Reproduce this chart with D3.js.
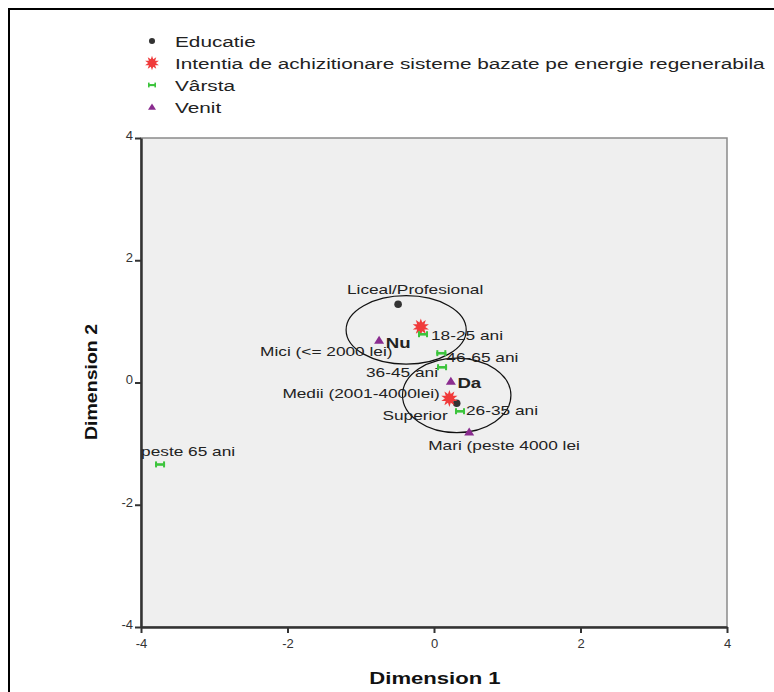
<!DOCTYPE html>
<html>
<head>
<meta charset="utf-8">
<script src="https://cdn.jsdelivr.net/npm/d3@7"></script>
<style>
  body { margin: 0; background: #fff; }
  svg { font-family: "Liberation Sans", Arial, sans-serif; }
</style>
</head>
<body>
<div id="chart"></div>
<script>
// categories per variable, with their coordinates (Dimension 1, Dimension 2)
var educatie = [
  { name: "Liceal/Profesional", x: -0.49, y: 1.28 },
  { name: "Superior", x: 0.31, y: -0.34 }
];
var intentia = [
  { name: "Nu", x: -0.18, y: 0.91 },
  { name: "Da", x: 0.21, y: -0.26 }
];
var varsta = [
  { name: "18-25 ani", x: -0.15, y: 0.79 },
  { name: "46-65 ani", x: 0.10, y: 0.48 },
  { name: "36-45 ani", x: 0.11, y: 0.25 },
  { name: "26-35 ani", x: 0.355, y: -0.47 },
  { name: "peste 65 ani", x: -3.74, y: -1.34 }
];
var venit = [
  { name: "Mici (<= 2000 lei)", x: -0.75, y: 0.69 },
  { name: "Medii (2001-4000lei)", x: 0.23, y: 0.02 },
  { name: "Mari (peste 4000 lei", x: 0.48, y: -0.81 }
];
// grouping ellipses (centre and radii in data units)
var ellipses = [
  { cx: -0.38, cy: 0.86, rx: 0.82, ry: 0.56 },
  { cx: 0.31, cy: -0.21, rx: 0.74, ry: 0.61 }
];
var legendNames = ["Educatie", "Intentia de achizitionare sisteme bazate pe energie regenerabila", "Vârsta", "Venit"];
var tickValues = [-4, -2, 0, 2, 4];

// label offsets (px) relative to marker, picked to match the original layout
var labelPos = {
  "Liceal/Profesional": [17, -10, "middle"],
  "Superior": [-9, 17, "end"],
  "Nu": [-35, 21, "start"],
  "Da": [8, -10, "start"],
  "18-25 ani": [8, 6, "start"],
  "46-65 ani": [5, 9, "start"],
  "36-45 ani": [-4, 10, "end"],
  "26-35 ani": [6, 4, "start"],
  "peste 65 ani": [-19, -8, "start"],
  "Mici (<= 2000 lei)": [-119, 16, "start"],
  "Medii (2001-4000lei)": [-11, 17, "end"],
  "Mari (peste 4000 lei": [-41, 18, "start"]
};

var W = 774, H = 692;
var SX = 1.33; // the original text is horizontally stretched
var svg = d3.select("#chart").append("svg").attr("width", W).attr("height", H);

// outer frame
svg.append("rect").attr("x", 9).attr("y", 9).attr("width", 800).attr("height", 800)
  .attr("fill", "none").attr("stroke", "#000").attr("stroke-width", 2);

var x = d3.scaleLinear().domain([-4, 4]).range([141, 727]);
var y = d3.scaleLinear().domain([-4, 4]).range([627, 138]);

svg.append("rect").attr("x", 141).attr("y", 138).attr("width", 586).attr("height", 489)
  .attr("fill", "#efefef").attr("stroke", "#8a8a8a").attr("stroke-width", 1.5);

var xAxis = svg.append("g").attr("transform", "translate(0,627)")
  .call(d3.axisBottom(x).tickValues(tickValues).tickSize(6).tickSizeOuter(0).tickFormat(function(d) { return String(d); }));
var yAxis = svg.append("g").attr("transform", "translate(141,0)")
  .call(d3.axisLeft(y).tickValues(tickValues).tickSize(6).tickSizeOuter(0).tickFormat(function(d) { return String(d); }));
[xAxis, yAxis].forEach(function(a) {
  a.select(".domain").attr("stroke", "#333").attr("stroke-width", 2.5);
  a.selectAll(".tick line").attr("stroke", "#333").attr("stroke-width", 2);
  a.selectAll(".tick text").attr("fill", "#333").style("font-size", "13px")
    .style("font-family", "'Liberation Sans', Arial, sans-serif");
});
xAxis.selectAll(".tick text").attr("dy", "0.95em");
yAxis.selectAll(".tick text").attr("x", -8).attr("dy", "0.1em");

svg.append("text").attr("transform", "translate(435,684) scale(1.3,1)").attr("text-anchor", "middle")
  .style("font-size", "17px").style("font-weight", "bold").attr("fill", "#111").text("Dimension 1");
svg.append("text").attr("transform", "translate(97,382) rotate(-90) scale(1.15,1)").attr("text-anchor", "middle")
  .style("font-size", "17px").style("font-weight", "bold").attr("fill", "#111").text("Dimension 2");

// ellipses
svg.selectAll(".ell").data(ellipses).enter().append("ellipse")
  .attr("cx", function(d) { return x(d.cx); })
  .attr("cy", function(d) { return y(d.cy); })
  .attr("rx", function(d) { return x(d.rx) - x(0); })
  .attr("ry", function(d) { return y(0) - y(d.ry); })
  .attr("fill", "none").attr("stroke", "#111").attr("stroke-width", 1.2);

// marker drawers
function starPath(r1, r2, n) {
  var p = [];
  for (var i = 0; i < n * 2; i++) {
    var r = i % 2 ? r2 : r1, a = Math.PI * i / n;
    p.push([r * Math.sin(a), -r * Math.cos(a)]);
  }
  return "M" + p.join("L") + "Z";
}
function drawMarker(g, kind) {
  if (kind === 0) {
    g.append("circle").attr("r", 3.8).attr("fill", "#333");
  } else if (kind === 1) {
    g.append("path").attr("d", starPath(8.5, 4.5, 10)).attr("fill", "#f03a3a");
  } else if (kind === 2) {
    g.append("rect").attr("x", -5).attr("y", -1.2).attr("width", 10).attr("height", 2.6).attr("fill", "#3cc43c");
    g.append("rect").attr("x", -5).attr("y", -3).attr("width", 2).attr("height", 6).attr("fill", "#3cc43c");
    g.append("rect").attr("x", 3).attr("y", -3).attr("width", 2).attr("height", 6).attr("fill", "#3cc43c");
  } else {
    g.append("path").attr("d", "M0,-4.5L5,3.5L-5,3.5Z").attr("fill", "#8a2c8f");
  }
}

var groups = [educatie, intentia, varsta, venit];
groups.forEach(function(data, k) {
  var pts = svg.selectAll(".pt" + k).data(data).enter().append("g")
    .attr("transform", function(d) { return "translate(" + x(d.x) + "," + y(d.y) + ")"; });
  pts.each(function() { drawMarker(d3.select(this), k); });
});
// labels on top
groups.forEach(function(data, k) {
  svg.selectAll(".lb" + k).data(data).enter().append("text")
    .attr("transform", function(d) {
      return "translate(" + (x(d.x) + labelPos[d.name][0]) + "," + (y(d.y) + labelPos[d.name][1]) + ") scale(" + SX + ",1)";
    })
    .attr("text-anchor", function(d) { return labelPos[d.name][2]; })
    .style("font-size", k === 1 ? "14px" : "13px")
    .style("font-weight", k === 1 ? "bold" : "normal")
    .attr("fill", "#222")
    .text(function(d) { return d.name; });
});

// legend
var leg = svg.selectAll(".leg").data(legendNames).enter().append("g")
  .attr("transform", function(d, i) { return "translate(0," + [42, 64, 86, 108][i] + ")"; });
leg.each(function(d, i) {
  var m = d3.select(this).append("g").attr("transform", "translate(152,-1) scale(" + (i === 1 ? 0.85 : 0.8) + ")");
  drawMarker(m, i);
});
leg.append("text").attr("transform", "translate(175,5) scale(1.34,1)").style("font-size", "15.5px").attr("fill", "#222")
  .text(function(d) { return d; });
</script>
</body>
</html>
